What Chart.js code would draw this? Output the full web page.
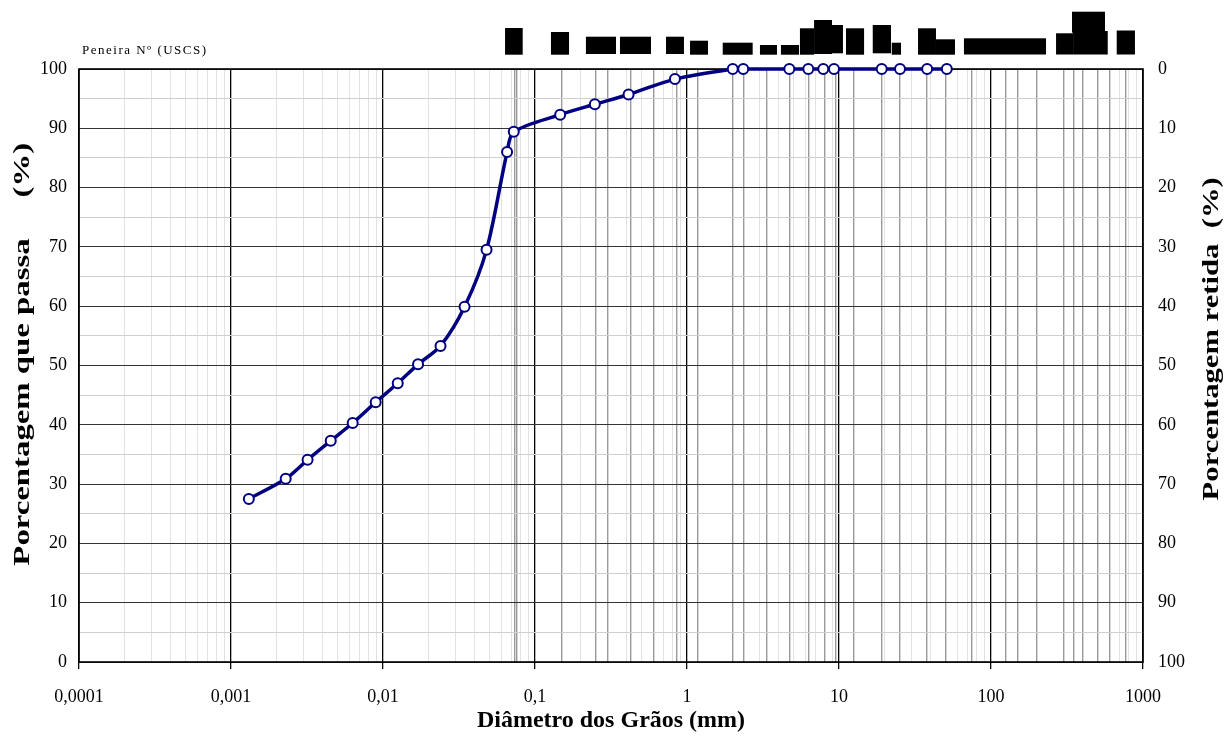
<!DOCTYPE html>
<html><head><meta charset="utf-8">
<script src="https://cdn.jsdelivr.net/npm/chart.js@4.4.1/dist/chart.umd.min.js"></script>
<style>html,body{margin:0;padding:0;background:#fff}canvas{display:block}</style>
</head><body>
<canvas id="c" width="1230" height="742"></canvas>
<script>
// ---- data ----
const diameters = [0.00131, 0.00229, 0.00319, 0.00453, 0.00632, 0.00895, 0.0125, 0.0170, 0.0239, 0.0344, 0.0480, 0.0655, 0.0725, 0.1464, 0.2475, 0.4127, 0.833, 2.0, 2.344, 4.71, 6.28, 7.88, 9.27, 19.1, 25.2, 38.0, 51.2];
const passing   = [27.5, 30.9, 34.1, 37.3, 40.3, 43.8, 47.0, 50.2, 53.3, 59.9, 69.5, 86.0, 89.4, 92.3, 94.05, 95.7, 98.3, 100, 100, 100, 100, 100, 100, 100, 100, 100, 100];
const decadeValues = [0.0001, 0.001, 0.01, 0.1, 1, 10, 100, 1000];
const decadeLabels = ['0,0001', '0,001', '0,01', '0,1', '1', '10', '100', '1000'];
const sieveOpenings = [0.073, 0.0755, 0.15, 0.25, 0.3, 0.425, 0.6, 0.85, 1.18, 2.0, 2.36, 3.35, 4.75, 6.3, 8, 9.5, 12.5, 19, 25, 37.5, 50, 75, 125, 150, 200, 300, 350, 400, 500, 600, 775];
const xTitle = 'Diâmetro dos Grãos (mm)';
const leftTitle = 'Porcentagem que passa     (%)';
const rightTitle = 'Porcentagem retida  (%)';
const sieveCaption = 'Peneira Nº (USCS)';
// sieve number captions at top (rendered as solid blocks in the reference): [log10 from, log10 to, top, bottom] offsets from plot top
const captionBlocks = [
  [-1.197,-1.081,-41,-14.3],[-0.895,-0.776,-37,-14.3],[-0.665,-0.467,-32.3,-15],[-0.441,-0.237,-32.3,-15],
  [-0.138,-0.020,-32.3,-15],[0.020,0.138,-28.3,-14.3],[0.235,0.432,-26.3,-14.3],[0.480,0.592,-24,-14.3],
  [0.618,0.737,-24,-14.3],[0.743,0.836,-40.7,-14.3],[0.836,0.954,-49,-15],[0.954,1.026,-44,-15.7],
  [1.046,1.165,-40.7,-14.3],[1.222,1.342,-44,-15.7],[1.347,1.408,-26.3,-14.3],[1.520,1.638,-40.7,-14.3],
  [1.638,1.763,-29.7,-14.3],[1.822,2.362,-30.7,-14.5],[2.428,2.540,-35.7,-14.5],[2.540,2.768,-38,-14.5],
  [2.533,2.750,-57.3,-36.3],[2.827,2.947,-38.5,-14.5]
];

const SERIF = '"Liberation Serif", "Times New Roman", serif';
const isDecade = v => Math.abs(Math.log10(v) - Math.round(Math.log10(v))) < 1e-6;
const isSieve = v => sieveOpenings.some(s => Math.abs(s - v) / s < 1e-6);

// build x ticks: minor 1..9 per decade + sieve openings
const xTickValues = (() => {
  const set = new Map();
  for (let e = -4; e <= 3; e++) {
    for (let m = 1; m <= 9; m++) {
      const v = m * Math.pow(10, e);
      if (v > 1000.0001) break;
      set.set(v.toPrecision(6), v);
    }
  }
  sieveOpenings.forEach(v => set.set(v.toPrecision(6), v));
  return [...set.values()].sort((a, b) => a - b);
})();

function drawStretched(ctx, text, cx, cy, targetLen) {
  const w = ctx.measureText(text).width;
  const s = targetLen / w;
  ctx.save();
  ctx.translate(cx, cy);
  ctx.rotate(-Math.PI / 2);
  ctx.scale(s, 1);
  ctx.fillText(text, 0, 0);
  ctx.restore();
}

const plotFrame = {
  id: 'plotFrame',
  beforeDatasetsDraw(chart) {
    const {ctx, chartArea: a} = chart;
    ctx.save();
    ctx.strokeStyle = '#000';
    ctx.lineWidth = 1.6;
    ctx.strokeRect(a.left, a.top, a.right - a.left, a.bottom - a.top);
    ctx.restore();
  },
  afterDraw(chart) {
    const {ctx, chartArea: a} = chart;
    const xs = chart.scales.x;
    ctx.save();
    ctx.fillStyle = '#000';
    captionBlocks.forEach(([l1, l2, t, b]) => {
      const x1 = xs.getPixelForValue(Math.pow(10, l1));
      const x2 = xs.getPixelForValue(Math.pow(10, l2));
      ctx.fillRect(x1, a.top + t, x2 - x1, b - t);
    });
    ctx.font = '13px ' + SERIF;
    ctx.textAlign = 'left';
    ctx.textBaseline = 'middle';
    try { ctx.letterSpacing = '1.5px'; } catch (e) {}
    ctx.fillText(sieveCaption, a.left + 3, a.top - 18);
    try { ctx.letterSpacing = '0px'; } catch (e) {}
    ctx.font = 'bold 24px ' + SERIF;
    ctx.textAlign = 'center';
    ctx.textBaseline = 'middle';
    ctx.fillText(xTitle, (a.left + a.right) / 2, 721);
    const h = a.bottom - a.top;
    drawStretched(ctx, leftTitle, 23, a.top + h * 0.481, h * 0.713);
    drawStretched(ctx, rightTitle, 1212, a.top + h * 0.455, h * 0.545);
    ctx.restore();
  }
};

new Chart(document.getElementById('c'), {
  type: 'line',
  data: {
    datasets: [{
      data: diameters.map((d, i) => ({x: d, y: passing[i]})),
      borderColor: '#000080',
      borderWidth: 3.5,
      pointRadius: 5,
      pointBorderWidth: 2,
      pointBackgroundColor: '#ffffff',
      pointBorderColor: '#000080',
      tension: 0.3,
      fill: false,
      clip: false
    }]
  },
  options: {
    responsive: false,
    animation: false,
    devicePixelRatio: 1,
    layout: {padding: {top: 69, left: 0, right: 0, bottom: 0}},
    plugins: {legend: {display: false}, tooltip: {enabled: false}},
    scales: {
      x: {
        type: 'logarithmic',
        position: 'bottom',
        min: 0.0001,
        max: 1000,
        afterBuildTicks(scale) { scale.ticks = xTickValues.map(v => ({value: v})); },
        afterFit(scale) { scale.height = 80; },
        border: {display: false},
        grid: {
          drawOnChartArea: true,
          drawTicks: true,
          tickLength: 7,
          color: c => { const v = c.tick && c.tick.value; if (!v) return 'transparent'; if (isDecade(v)) return '#000'; if (isSieve(v)) return '#9a9a9a'; return '#e2e2e2'; },
          lineWidth: c => { const v = c.tick && c.tick.value; if (!v) return 1; if (isDecade(v)) return 1.3; if (isSieve(v)) return 1.4; return 1; },
          tickColor: c => { const v = c.tick && c.tick.value; return v && isDecade(v) ? '#000' : 'rgba(0,0,0,0)'; },
          tickWidth: 1.3
        },
        ticks: {
          autoSkip: false,
          maxRotation: 0,
          padding: 17,
          color: '#000',
          font: {family: SERIF, size: 18},
          callback: function (value) {
            const i = decadeValues.findIndex(d => Math.abs(d - value) / d < 1e-6);
            return i >= 0 ? decadeLabels[i] : '';
          }
        }
      },
      y: {
        type: 'linear',
        position: 'left',
        min: 0,
        max: 100,
        afterFit(scale) { scale.width = 79; },
        border: {display: false},
        grid: {
          drawTicks: false,
          color: c => (c.tick.value % 10 === 0 ? '#333333' : '#cfcfcf'),
          lineWidth: 1
        },
        ticks: {
          stepSize: 5,
          padding: 12,
          color: '#000',
          font: {family: SERIF, size: 18},
          callback: v => (v % 10 === 0 ? String(v) : '')
        }
      },
      y2: {
        type: 'linear',
        position: 'right',
        reverse: true,
        min: 0,
        max: 100,
        afterFit(scale) { scale.width = 87; },
        border: {display: false},
        grid: {drawOnChartArea: false, drawTicks: false},
        ticks: {
          stepSize: 10,
          padding: 15,
          color: '#000',
          font: {family: SERIF, size: 18}
        }
      }
    }
  },
  plugins: [plotFrame]
});
</script>
</body></html>
